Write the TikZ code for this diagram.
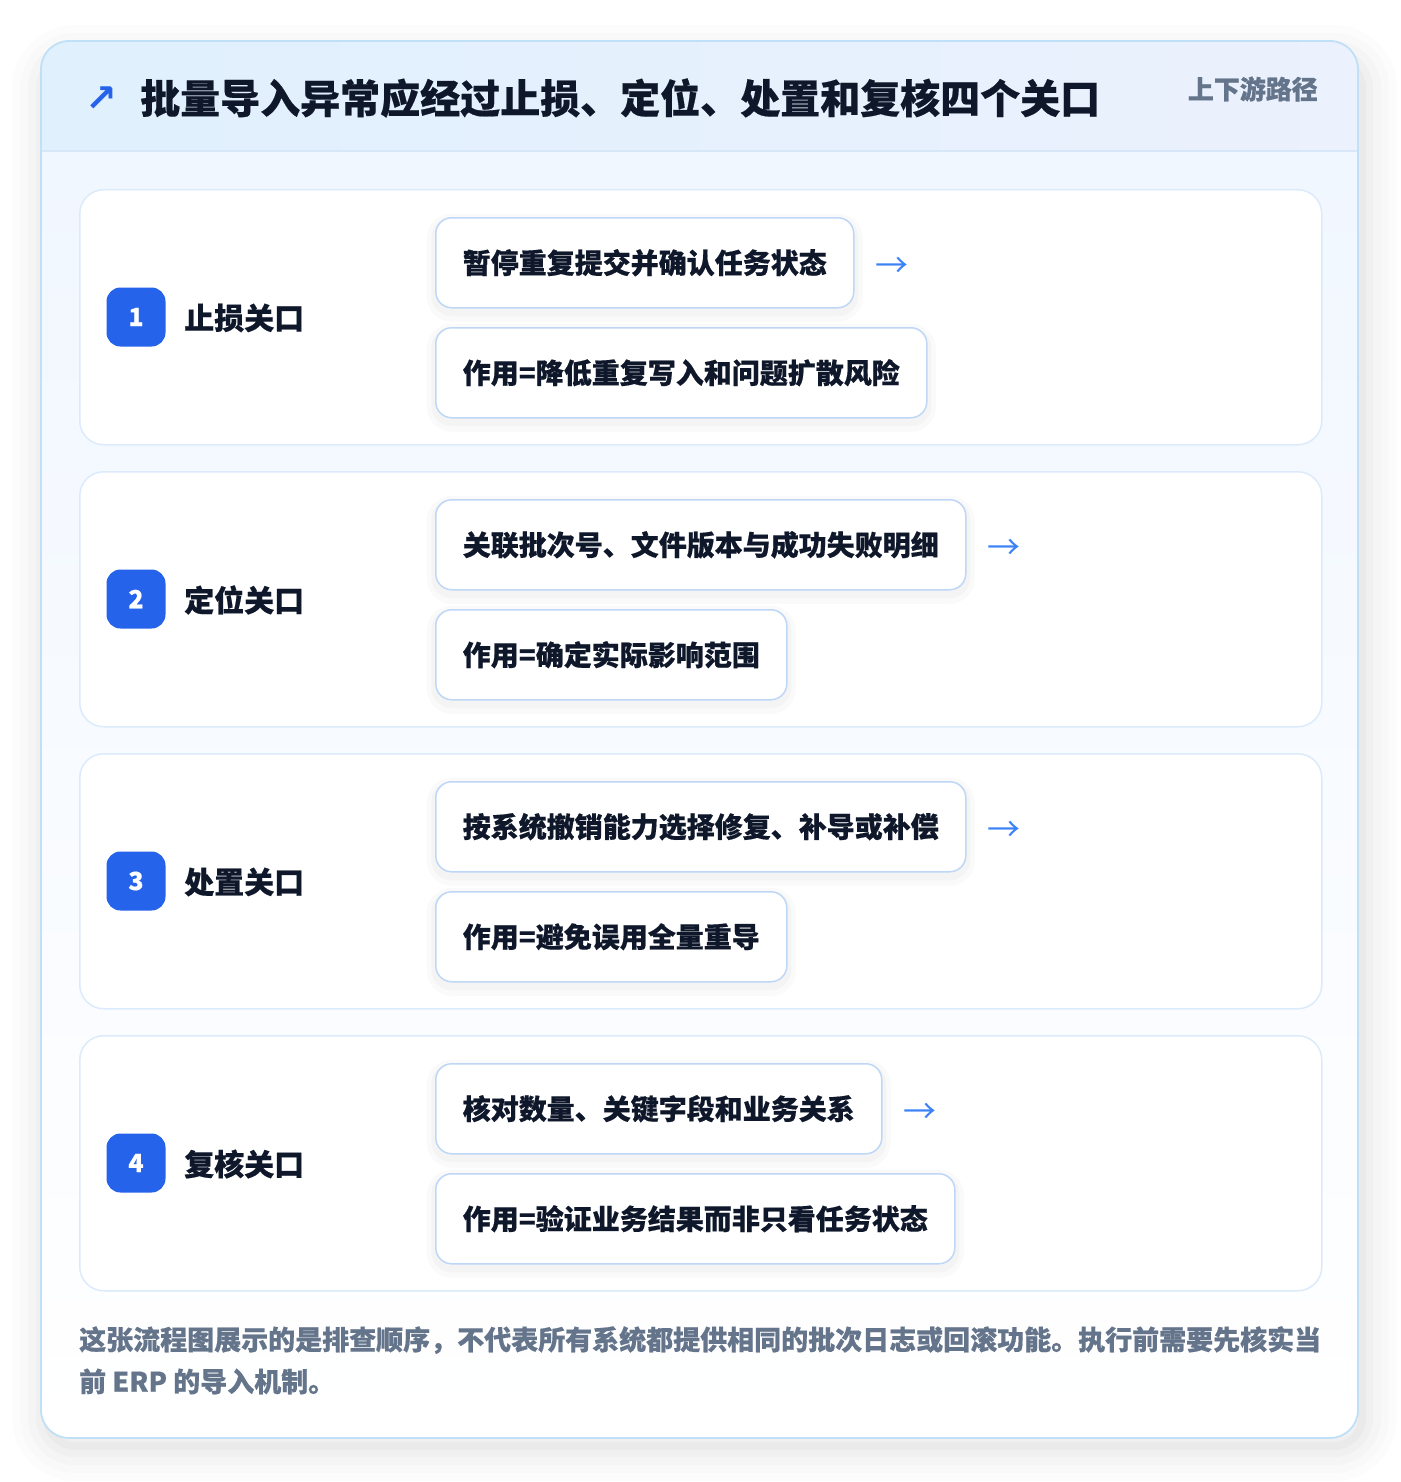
\documentclass[tikz,border=0pt]{standalone}
\usepackage{fontspec}
\setmainfont{Noto Sans CJK SC}[BoldFeatures={FakeBold=0.5}]
\newfontfamily\djv{DejaVu Sans}
\usetikzlibrary{positioning,calc}
\definecolor{titlec}{HTML}{0F172A}
\definecolor{grayc}{HTML}{64748B}
\definecolor{bluec}{HTML}{2563EB}
\definecolor{arrowc}{HTML}{3B82F6}
\definecolor{hdrL}{HTML}{E0F0FD}
\definecolor{hdrR}{HTML}{EBF1FD}
\definecolor{hdrline}{HTML}{D6E7F8}
\definecolor{bodyT}{HTML}{F1F7FF}
\definecolor{outerb}{HTML}{BFE0F6}
\definecolor{cardb}{HTML}{DCEBFB}
\definecolor{boxb}{HTML}{BFD7F6}
\tikzset{
  card/.style={draw=cardb, line width=1.5pt, fill=white, rounded corners=24pt, anchor=north west, minimum width=1242pt, minimum height=255pt, inner sep=0pt},
  badge/.style={fill=bluec, rounded corners=14pt, minimum size=59pt, inner sep=0pt, text=white, font=\fontsize{25}{28}\selectfont\bfseries},
  lab/.style={anchor=west, inner sep=0pt, text=titlec, font=\fontsize{30}{36}\selectfont\bfseries},
  stepbox/.style={draw=boxb, line width=1.5pt, fill=white, rounded corners=16pt, anchor=north west, minimum height=90pt, inner xsep=27pt, inner ysep=0pt, text=titlec, font=\fontsize{28}{34}\selectfont\bfseries,
    preaction={draw=black, draw opacity=0.018, line width=18pt, transform canvas={yshift=-5pt}},
    preaction={draw=black, draw opacity=0.022, line width=9pt, transform canvas={yshift=-4pt}}},
  arrowtxt/.style={anchor=west, inner sep=0pt, text=arrowc, font=\fontsize{33}{36}\selectfont},
}
\begin{document}
\begin{tikzpicture}[x=1pt,y=-1pt]
\useasboundingbox (0,0) rectangle (1400,1482);
\fill[white] (0,0) rectangle (1400,1482);
% outer shadow
\foreach \w/\o in {70/0.010, 54/0.012, 38/0.015, 22/0.018, 8/0.025}{
  \draw[black, draw opacity=\o, line width=\w pt, rounded corners=28pt] (47,60) rectangle (1362,1446);
}
\fill[white, rounded corners=28pt] (41,41) rectangle (1358,1438);
\begin{scope}
  \clip[rounded corners=28pt] (41,41) rectangle (1358,1438);
  \shade[left color=hdrL, right color=hdrR] (41,41) rectangle (1358,151);
  \shade[top color=bodyT, bottom color=white] (41,151) rectangle (1358,1438);
  \draw[hdrline, line width=1.5pt] (41,151) -- (1358,151);
\end{scope}
\draw[outerb, line width=1.8pt, rounded corners=28pt] (41,41) rectangle (1358,1438);
% header
\node[anchor=center, inner sep=0pt, text=bluec, font=\djv\fontsize{38}{40}\selectfont\bfseries] (ico) at (101,99) {↗};
\node[anchor=west, inner sep=0pt, text=titlec, font=\fontsize{40}{48}\selectfont\bfseries] (title) at (140,98) {批量导入异常应经过止损、定位、处置和复核四个关口};
\node[anchor=east, inner sep=0pt, text=grayc, font=\fontsize{26}{30}\selectfont\bfseries] (tag) at (1318,89) {上下游路径};
% cards
\foreach \i/\lab/\act/\res in {
  1/止损关口/暂停重复提交并确认任务状态/作用=降低重复写入和问题扩散风险,
  2/定位关口/关联批次号、文件版本与成功失败明细/作用=确定实际影响范围,
  3/处置关口/按系统撤销能力选择修复、补导或补偿/作用=避免误用全量重导,
  4/复核关口/核对数量、关键字段和业务关系/作用=验证业务结果而非只看任务状态}{
  \pgfmathsetmacro{\yy}{189+(\i-1)*282}
  \node[card] (c\i) at (79,\yy) {};
  \node[badge] (b\i) at (136,\yy+128) {\i};
  \node[lab] (l\i) at (184,\yy+129) {\lab};
  \node[stepbox] (a\i) at (435,\yy+28) {\act};
  \node[stepbox] (r\i) at (435,\yy+138) {\res};
  \node[arrowtxt] (t\i) at ([xshift=21pt,yshift=-5pt]a\i.east) {→};
}
% footer
\node[anchor=north west, inner sep=0pt, align=left, text=grayc, font=\fontsize{27}{42}\selectfont\bfseries] (foot) at (79,1326) {这张流程图展示的是排查顺序，不代表所有系统都提供相同的批次日志或回滚功能。执行前需要先核实当\\前 ERP 的导入机制。};
\end{tikzpicture}
\end{document}
